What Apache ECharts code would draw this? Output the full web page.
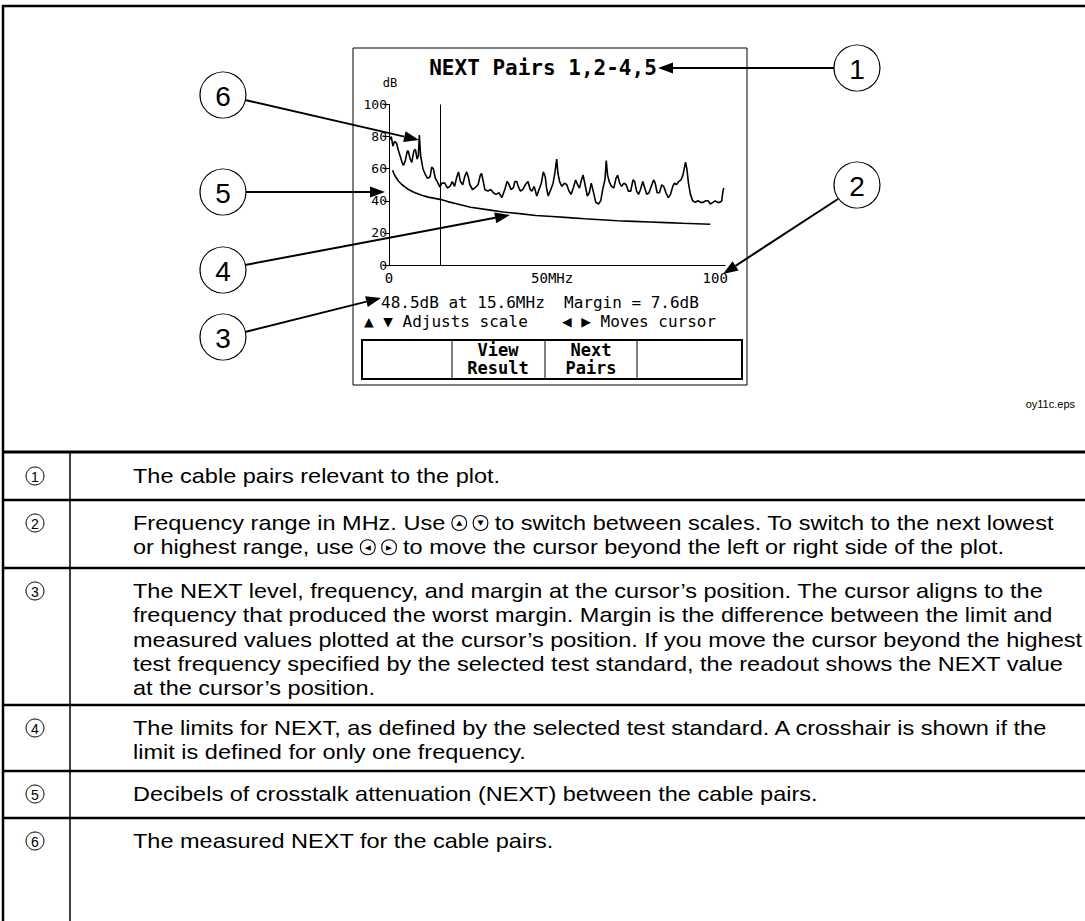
<!DOCTYPE html>
<html>
<head>
<meta charset="utf-8">
<script src="https://cdn.jsdelivr.net/npm/echarts@6/dist/echarts.min.js"></script>
<style>
  html, body { margin: 0; padding: 0; background: #fff; }
  #main { width: 1085px; height: 921px; }
</style>
</head>
<body>
<div id="main"></div>
<script>
var myChart = echarts.init(document.getElementById('main'), null, { renderer: 'svg' });

// measured NEXT trace (MHz, dB)
var measFreq = [0.3, 0.7, 1.2, 1.7, 2.3, 2.8, 3.4, 4.0, 4.4, 5.0, 5.6, 5.9, 6.5, 7.0, 7.6, 8.1, 8.6, 9.0, 9.3, 9.7, 10.4, 11.0, 11.8, 12.6, 13.1, 13.6, 14.2, 14.8, 15.6, 16.2, 17.1, 17.9, 18.7, 19.4, 20.1, 20.8, 21.3, 21.9, 22.6, 23.2, 23.8, 24.3, 24.8, 25.6, 26.3, 27.3, 28.0, 28.4, 28.9, 29.4, 30.3, 31.2, 32.0, 32.8, 33.7, 34.6, 35.5, 36.2, 36.6, 37.4, 38.1, 38.6, 39.2, 39.6, 40.3, 41.0, 41.8, 42.6, 43.3, 43.8, 44.5, 45.3, 46.0, 46.7, 47.3, 47.9, 48.3, 48.8, 49.6, 50.3, 50.9, 51.4, 51.8, 52.3, 53.0, 53.8, 54.5, 55.2, 55.8, 56.5, 57.2, 57.8, 58.4, 59.0, 59.5, 60.1, 60.8, 61.4, 62.0, 62.6, 63.4, 64.2, 64.9, 65.6, 66.2, 66.6, 67.0, 67.5, 68.2, 68.9, 69.6, 70.1, 70.7, 71.3, 72.0, 72.7, 73.4, 74.1, 74.8, 75.3, 75.9, 76.5, 77.1, 77.8, 78.4, 79.0, 79.7, 80.4, 81.1, 81.6, 82.2, 82.9, 83.6, 84.2, 84.9, 85.6, 86.3, 87.0, 87.5, 88.1, 88.8, 89.5, 90.1, 90.6, 90.9, 91.3, 91.8, 92.4, 93.1, 93.9, 94.7, 95.5, 96.3, 97.1, 97.8, 98.5, 99.3, 100.0, 100.7, 101.4, 102.0, 102.3, 102.6];
var measDb = [78, 80, 74, 77, 76, 72, 68, 64, 62, 65, 71, 71, 66, 64, 71, 72, 66, 68, 81, 68, 60, 57, 54, 55, 61, 60, 54, 52, 48.5, 51, 51, 48, 49, 52, 49, 55, 58, 52, 50, 55, 58, 55, 50, 47, 48, 50, 56, 57, 52, 47, 46, 47, 45, 44, 45, 42, 47, 52, 51, 47, 48, 52, 52, 49, 46, 47, 50, 52, 47, 46, 49, 43, 47, 51, 58, 55, 48, 43, 47, 51, 58, 66, 57, 52, 49, 51, 50, 46, 44, 48, 53, 50, 48, 53, 56, 50, 43, 45, 51, 46, 39, 38, 40, 48, 53, 65, 56, 52, 49, 48, 54, 56, 51, 49, 51, 50, 46, 46, 53, 52, 46, 44, 47, 52, 48, 44, 45, 49, 53, 51, 45, 45, 50, 49, 45, 42, 44, 49, 51, 50, 52, 53, 56, 61, 64, 60, 51, 44, 40, 39, 40, 39, 39, 40, 40, 38, 39, 40, 39, 39, 40, 45, 48];

// NEXT limit line (MHz, dB)
var limitFreq = [1.1, 1.5, 2, 3, 4, 5, 6, 7, 8, 10, 12, 15.6, 18, 21, 25, 30, 35, 40, 45, 50, 55, 60, 65, 70, 75, 80, 85, 90, 98.5];
var limitDb = [59, 57, 55, 52, 50, 48.5, 47, 46, 45, 43.5, 42.3, 40.9, 39.5, 38, 36, 34.5, 33, 32, 30.8, 30.2, 29.5, 28.8, 28.2, 27.6, 27.2, 26.8, 26.4, 26, 25.4];

var cursorFreq = 15.6;
var xTicks = { 0: '0', 50: '50MHz', 100: '100' };

// table of callout explanations, one string per printed line
var tableRows = [
  ['1', ['The cable pairs relevant to the plot.']],
  ['2', ['Frequency range in MHz. Use {up|\u25B2}{sp|\u00a0}{dn|\u25BC} to switch between scales. To switch to the next lowest',
         'or highest range, use {lt|\u25C0}{sp|\u00a0}{rt|\u25B6} to move the cursor beyond the left or right side of the plot.']],
  ['3', ['The NEXT level, frequency, and margin at the cursor\u2019s position. The cursor aligns to the',
         'frequency that produced the worst margin. Margin is the difference between the limit and',
         'measured values plotted at the cursor\u2019s position. If you move the cursor beyond the highest',
         'test frequency specified by the selected test standard, the readout shows the NEXT value',
         'at the cursor\u2019s position.']],
  ['4', ['The limits for NEXT, as defined by the selected test standard. A crosshair is shown if the',
         'limit is defined for only one frequency.']],
  ['5', ['Decibels of crosstalk attenuation (NEXT) between the cable pairs.']],
  ['6', ['The measured NEXT for the cable pairs.']]
];

var mono = '"DejaVu Sans Mono", monospace';
var sans = '"Liberation Sans", Arial, sans-serif';

function arrow(x1, y1, x2, y2) {
  var a = Math.atan2(y2 - y1, x2 - x1), L = 15, W = 5.5;
  var bx = x2 - L * Math.cos(a), by = y2 - L * Math.sin(a);
  return [
    { type: 'line', silent: true, shape: { x1: x1, y1: y1, x2: bx, y2: by }, style: { stroke: '#000', lineWidth: 2 } },
    { type: 'polygon', silent: true, shape: { points: [[x2, y2], [bx - W * Math.sin(a), by + W * Math.cos(a)], [bx + W * Math.sin(a), by - W * Math.cos(a)]] }, style: { fill: '#000' } }
  ];
}
function callout(cx, cy, label) {
  return [
    { type: 'circle', silent: true, shape: { cx: cx, cy: cy, r: 23 }, style: { fill: '#fff', stroke: '#000', lineWidth: 1.2 } },
    { type: 'text', silent: true, x: cx, y: cy + 1, style: { text: label, font: '28px ' + sans, fill: '#000', textAlign: 'center', textVerticalAlign: 'middle' } }
  ];
}
function hline(y, x1, x2, w) {
  return { type: 'line', silent: true, shape: { x1: x1, y1: y, x2: x2, y2: y }, style: { stroke: '#000', lineWidth: w } };
}
function vline(x, y1, y2, w) {
  return { type: 'line', silent: true, shape: { x1: x, y1: y1, x2: x, y2: y2 }, style: { stroke: '#000', lineWidth: w } };
}
function txt(x, y, s, font, align) {
  return { type: 'text', silent: true, x: x, y: y, style: { text: s, font: font, fill: '#000', textAlign: align || 'left', textVerticalAlign: 'middle' } };
}

var g = [];
// outer frame
g.push(hline(6, 2, 1085, 2.5), vline(3, 5, 921, 2.5));
// instrument screen
g.push({ type: 'rect', silent: true, shape: { x: 353, y: 48, width: 394, height: 337 }, style: { fill: 'none', stroke: '#000', lineWidth: 1 } });
g.push(txt(543, 68, 'NEXT Pairs 1,2-4,5', 'bold 21px ' + mono, 'center'));
g.push(txt(390, 83, 'dB', '12px ' + mono, 'center'));
g.push(txt(381, 302, '48.5dB at 15.6MHz  Margin = 7.6dB', '16px ' + mono));
g.push(txt(364, 321, '\u25B2 \u25BC Adjusts scale', '16px ' + mono));
g.push(txt(562, 321, '\u25C0 \u25B6 Moves cursor', '16px ' + mono));
g.push({ type: 'rect', silent: true, shape: { x: 362, y: 340, width: 380, height: 39 }, style: { fill: 'none', stroke: '#000', lineWidth: 2 } });
g.push(vline(452, 340, 379, 1), vline(545, 340, 379, 1), vline(637, 340, 379, 1));
g.push(txt(498, 350, 'View', 'bold 17px ' + mono, 'center'), txt(498, 368, 'Result', 'bold 17px ' + mono, 'center'));
g.push(txt(591, 350, 'Next', 'bold 17px ' + mono, 'center'), txt(591, 368, 'Pairs', 'bold 17px ' + mono, 'center'));
// callouts
g = g.concat(callout(857, 68, '1'), arrow(834, 68, 658, 68));
g = g.concat(callout(857, 185, '2'), arrow(838, 199, 723, 274));
g = g.concat(callout(223, 337, '3'), arrow(245, 332, 381, 298));
g = g.concat(callout(223, 270, '4'), arrow(245, 265, 510, 215));
g = g.concat(callout(223, 192, '5'), arrow(246, 192, 385, 192));
g = g.concat(callout(223, 95, '6'), arrow(245, 100, 419, 140));
g.push(txt(1075, 404, 'oy11c.eps', '11px ' + sans, 'right'));

// table
var sepY = [452, 500, 568, 705, 771, 818];
sepY.forEach(function (y, i) { g.push(hline(y, 2, 1085, i === 0 ? 3 : 2.5)); });
g.push(vline(70, 452, 921, 1.5));
var rowTop = [476, 523, 591, 728, 794, 841];
var icon = { width: 13, height: 15, borderRadius: 8, borderColor: '#000', borderWidth: 1, align: 'center',
  fontSize: 7, lineHeight: 15, fontFamily: '"DejaVu Sans"' };
var gap = { width: 6, fontSize: 7 };
tableRows.forEach(function (r, i) {
  g.push({ type: 'circle', silent: true, shape: { cx: 35, cy: rowTop[i], r: 9 }, style: { fill: 'none', stroke: '#000', lineWidth: 1 } });
  g.push(txt(35, rowTop[i] + 1, r[0], '14px ' + sans, 'center'));
  r[1].forEach(function (line, k) {
    g.push({ type: 'text', silent: true, x: 133, y: rowTop[i] + k * 24.3, scaleX: 1.12, style: {
      text: line, font: '21px ' + sans, fill: '#000', textVerticalAlign: 'middle',
      rich: { up: icon, dn: icon, lt: icon, rt: icon, sp: gap }
    } });
  });
});

var option = {
  animation: false,
  grid: { left: 389, top: 104.5, width: 336, height: 160.5 },
  xAxis: {
    type: 'value', min: 0, max: 103, interval: 50,
    axisLine: { lineStyle: { color: '#000', width: 1 } },
    axisTick: { show: false },
    splitLine: { show: false },
    axisLabel: {
      color: '#000', fontFamily: mono, fontSize: 14, margin: 6, showMaxLabel: false,
      formatter: function (v) { return xTicks[v] !== undefined ? xTicks[v] : ''; }
    }
  },
  yAxis: {
    type: 'value', min: 0, max: 100, interval: 20,
    axisLine: { show: true, lineStyle: { color: '#000', width: 1 } },
    axisTick: { show: true, length: 5, lineStyle: { color: '#000' } },
    splitLine: { show: false },
    axisLabel: { color: '#000', fontFamily: mono, fontSize: 13, margin: 2 }
  },
  series: [
    {
      name: 'Measured NEXT', type: 'line', showSymbol: false, silent: true,
      lineStyle: { color: '#000', width: 1.6 },
      data: measFreq.map(function (f, i) { return [f, measDb[i]]; }),
      markLine: {
        silent: true, symbol: 'none', label: { show: false },
        lineStyle: { color: '#000', width: 1, type: 'solid' },
        data: [[{ coord: [cursorFreq, 0] }, { coord: [cursorFreq, 100] }]]
      }
    },
    {
      name: 'NEXT limit', type: 'line', showSymbol: false, silent: true,
      lineStyle: { color: '#000', width: 1.6 },
      data: limitFreq.map(function (f, i) { return [f, limitDb[i]]; })
    }
  ],
  graphic: g
};

myChart.setOption(option);
</script>
</body>
</html>
